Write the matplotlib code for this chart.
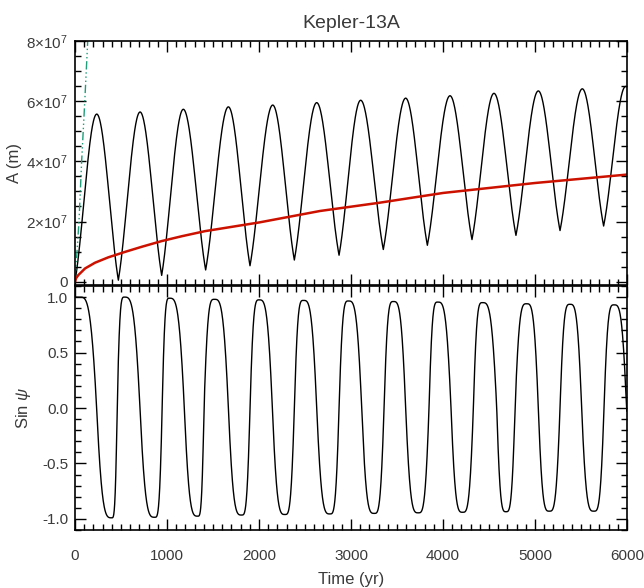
import numpy as np
import matplotlib
matplotlib.use("Agg")
import matplotlib.pyplot as plt
from matplotlib.ticker import MultipleLocator, FuncFormatter

plt.rcParams['font.family'] = ['Liberation Sans Narrow', 'Liberation Sans', 'DejaVu Sans']
plt.rcParams['mathtext.fontset'] = 'custom'
plt.rcParams['mathtext.rm'] = 'Liberation Sans'
plt.rcParams['mathtext.it'] = 'Liberation Sans:italic'

TEXT = '#3a3a3a'

# amplitude A (m): alternating maxima / minima
a_t = [0, 236, 471, 707, 942, 1177, 1420, 1667, 1902, 2149, 2384, 2627, 2870,
       3105, 3351, 3594, 3830, 4076, 4315, 4554, 4793, 5036, 5272, 5514, 5746,
       5985, 6000]
a_v = [0.0, 5.57e7, 0.05e7, 5.64e7, 0.21e7, 5.73e7, 0.39e7, 5.81e7, 0.53e7,
       5.87e7, 0.72e7, 5.95e7, 0.88e7, 6.03e7, 1.07e7, 6.10e7, 1.21e7, 6.18e7,
       1.40e7, 6.26e7, 1.54e7, 6.34e7, 1.70e7, 6.41e7, 1.85e7, 6.49e7, 6.48e7]

# secular growth (red)
red_t = [0, 10, 36, 109, 217, 362, 543, 725, 942, 1159, 1413, 2003, 2663,
         3300, 4003, 5000, 6000]
red_v = [0.0, 0.11e7, 0.22e7, 0.44e7, 0.63e7, 0.81e7, 0.99e7, 1.16e7, 1.35e7,
         1.51e7, 1.68e7, 1.97e7, 2.35e7, 2.62e7, 2.95e7, 3.28e7, 3.56e7]

# steep initial branch (green dash-dot-dot)
grn_t = [0, 43, 72, 106, 138]
grn_v = [0.0, 2e7, 4e7, 6e7, 8e7]

# sin(psi): extrema and zero crossings
s_t = [0, 50, 235, 400, 458, 535, 706, 868, 947, 1025, 1188, 1335, 1402,
       1514, 1667, 1812, 1902, 2000, 2145, 2283, 2384, 2482, 2627, 2772, 2870,
       2971, 3116, 3254, 3359, 3460, 3594, 3732, 3848, 3942, 4087, 4214, 4330,
       4428, 4584, 4685, 4783, 4909, 5036, 5156, 5272, 5380, 5507, 5641, 5750,
       5859, 5995, 6000]
s_v = [1.0, 1.0, 0.0, -0.99, 0.0, 1.0, 0.0, -0.985, 0.0, 0.99, 0.0, -0.975, 0.0,
       0.98, 0.0, -0.965, 0.0, 0.975, 0.0, -0.96, 0.0, 0.97, 0.0, -0.955, 0.0,
       0.965, 0.0, -0.95, 0.0, 0.96, 0.0, -0.945, 0.0, 0.955, 0.0, -0.94, 0.0,
       0.95, 0.0, -0.935, 0.0, 0.94, 0.0, -0.93, 0.0, 0.935, 0.0, -0.93, 0.0,
       0.93, 0.0, -0.03]


def cusp_wave(kt, kv, n=60):
    """rounded maxima, pointed minima between successive extrema"""
    tt, vv = [], []
    for i in range(len(kt) - 1):
        s = np.linspace(0, 1, n, endpoint=False)
        t0, t1, v0, v1 = kt[i], kt[i + 1], kv[i], kv[i + 1]
        lo, hi = min(v0, v1), max(v0, v1)
        u = 1 - s if v1 < v0 else s          # 0 at the minimum, 1 at the maximum
        f = 0.5 * np.sin(np.pi / 2 * u) + 0.5 * (0.5 - 0.5 * np.cos(np.pi * u))
        tt.append(t0 + (t1 - t0) * s)
        vv.append(lo + (hi - lo) * f)
    tt.append([kt[-1]])
    vv.append([kv[-1]])
    return np.concatenate(tt), np.concatenate(vv)


def flat_wave(kt, kv, n=60, p=1.8):
    """quarter waves between extrema and zero crossings, flattened tops"""
    tt, vv = [], []
    for i in range(len(kt) - 1):
        s = np.linspace(0, 1, n, endpoint=False)
        t0, t1, v0, v1 = kt[i], kt[i + 1], kv[i], kv[i + 1]
        if v1 == 0.0 and v0 != 0.0:
            v = v0 * np.sin(np.pi / 2 * (1 - s ** p))
        elif v0 == 0.0:
            v = v1 * np.sin(np.pi / 2 * (1 - (1 - s) ** p))
        else:
            v = v0 + (v1 - v0) * (0.5 - 0.5 * np.cos(np.pi * s))
        tt.append(t0 + (t1 - t0) * s)
        vv.append(v)
    tt.append([kt[-1]])
    vv.append([kv[-1]])
    return np.concatenate(tt), np.concatenate(vv)


def style_axes(ax):
    for sp in ax.spines.values():
        sp.set_linewidth(1.2)
    ax.tick_params(which='both', direction='in', top=True, right=True,
                   colors='black', labelcolor=TEXT, labelsize=11, width=1.0)
    ax.tick_params(which='major', length=8)
    ax.tick_params(which='minor', length=4.5)
    ax.tick_params(axis='y', pad=5)
    ax.xaxis.set_major_locator(MultipleLocator(1000))
    ax.xaxis.set_minor_locator(MultipleLocator(100))
    ax.set_xlim(0, 6000)


def sci_fmt(v, pos):
    if v == 0:
        return '0'
    return r'$%d{\times}10^{7}$' % round(v / 1e7)


fig = plt.figure(figsize=(6.44, 5.88), dpi=100)
ax1 = fig.add_axes([0.1165, 0.5153, 0.8571, 0.4150])
ax2 = fig.add_axes([0.1165, 0.0986, 0.8571, 0.4150])

# top panel
at, av = cusp_wave(a_t, a_v)
ax1.plot(at, av, color='black', lw=1.0)
ax1.plot(red_t, red_v, color='#cc1100', lw=1.8)
ax1.plot(grn_t, grn_v, color='#1f9e78', lw=1.0,
         dashes=(6, 2, 1, 2, 1, 2, 1, 2))
style_axes(ax1)
ax1.set_ylim(-1.1e6, 8e7)
ax1.yaxis.set_major_locator(MultipleLocator(2e7))
ax1.yaxis.set_minor_locator(MultipleLocator(5e6))
ax1.yaxis.set_major_formatter(FuncFormatter(sci_fmt))
ax1.tick_params(axis='x', labelbottom=False)
ax1.set_ylabel('A (m)', fontsize=12, color=TEXT)
ax1.yaxis.set_label_coords(-0.096, 0.5)
ax1.set_title('Kepler-13A', fontsize=14, color=TEXT, pad=9)

# bottom panel
st, sv = flat_wave(s_t, s_v)
ax2.plot(st, sv, color='black', lw=1.0)
style_axes(ax2)
ax2.set_ylim(-1.1, 1.1)
ax2.yaxis.set_major_locator(MultipleLocator(0.5))
ax2.yaxis.set_minor_locator(MultipleLocator(0.1))
ax2.yaxis.set_major_formatter(FuncFormatter(lambda v, p: '%.1f' % v))
ax2.tick_params(axis='x', pad=14)
ax2.set_ylabel(r'Sin $\psi$', fontsize=12, color=TEXT)
ax2.yaxis.set_label_coords(-0.076, 0.5)
ax2.set_xlabel('Time (yr)', fontsize=12, color=TEXT, labelpad=6)

fig.savefig('out.png', dpi=100)
